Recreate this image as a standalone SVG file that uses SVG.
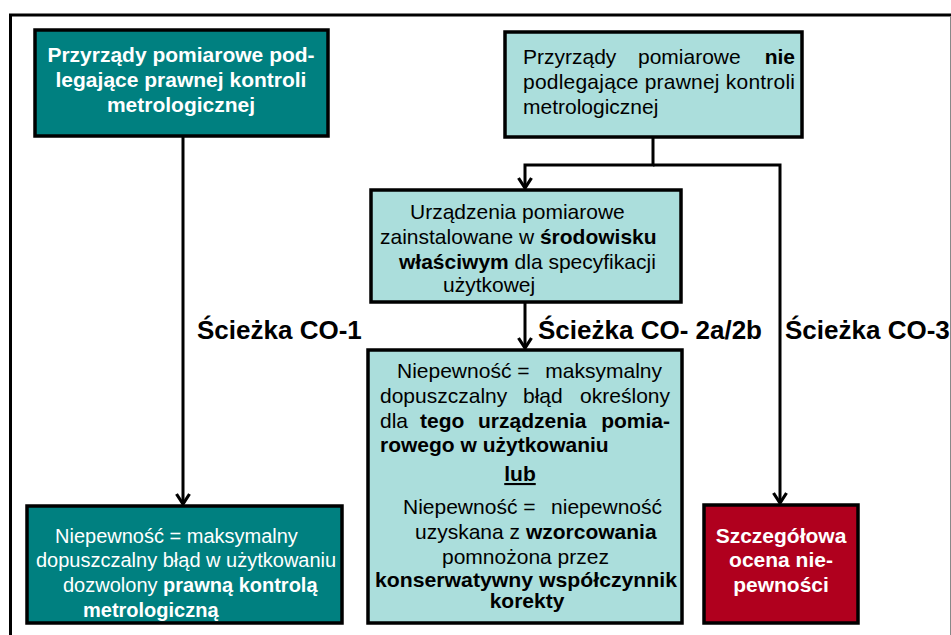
<svg xmlns="http://www.w3.org/2000/svg" width="951" height="635" viewBox="0 0 951 635">
<style>
text{font-family:"Liberation Sans",Arial,sans-serif;font-size:21px;}
.w{fill:#ffffff;}
.k{fill:#000000;}
.b{font-weight:bold;}
.box{stroke:#000;stroke-width:3.5;}
.dark{fill:#008080;}
.light{fill:#abdedc;}
.red{fill:#b0001e;}
.lbl{font-size:26px;font-weight:bold;fill:#000;}
.con{fill:none;stroke:#000;stroke-width:3;}
</style>
<defs>
<marker id="arr" markerUnits="userSpaceOnUse" markerWidth="14" markerHeight="16" refX="12" refY="8" orient="auto" viewBox="0 0 14 16">
<path d="M2,1.5 L12,8 L2,14.5" fill="none" stroke="#000" stroke-width="3.2"/>
</marker>
</defs>
<rect width="951" height="635" fill="#fff"/>
<g id="frame">
<path d="M10.5,635 V15 H951" fill="none" stroke="#000" stroke-width="3"/>
<line x1="950.5" y1="17" x2="950.5" y2="635" stroke="#888" stroke-width="1"/>
</g>
<g id="connectors">
<path class="con" d="M183,137 V504" marker-end="url(#arr)"/>
<path class="con" d="M653,137 V165 H525 V188" marker-end="url(#arr)"/>
<path class="con" d="M653,165 H780 V503" marker-end="url(#arr)"/>
<path class="con" d="M525,302 V348" marker-end="url(#arr)"/>
</g>
<g id="n1">
<rect class="box dark" x="35" y="30" width="293" height="106"/>
<text class="w b" x="181" y="62" text-anchor="middle">Przyrządy pomiarowe pod-</text>
<text class="w b" x="181" y="87" text-anchor="middle">legające prawnej kontroli</text>
<text class="w b" x="181" y="112" text-anchor="middle">metrologicznej</text>
</g>
<g id="n2">
<rect class="box light" x="505" y="32" width="297" height="105"/>
<text class="k" x="523" y="64">Przyrządy</text>
<text class="k" x="638" y="64">pomiarowe</text>
<text class="k b" x="795" y="64" text-anchor="end">nie</text>
<text class="k" x="523" y="89" textLength="272" lengthAdjust="spacing">podlegające prawnej kontroli</text>
<text class="k" x="523" y="114">metrologicznej</text>
</g>
<g id="n3">
<rect class="box light" x="371" y="190" width="310" height="112"/>
<text class="k" x="410" y="219">Urządzenia pomiarowe</text>
<text class="k" x="380" y="244">zainstalowane w <tspan class="b">środowisku</tspan></text>
<text class="k" x="399" y="269"><tspan class="b">właściwym</tspan> dla specyfikacji</text>
<text class="k" x="443" y="292">użytkowej</text>
</g>
<g id="n4">
<rect class="box light" x="368" y="350" width="314" height="273"/>
<text class="k" x="397" y="378">Niepewność =</text>
<text class="k" x="662" y="378" text-anchor="end">maksymalny</text>
<text class="k" x="380" y="403">dopuszczalny</text>
<text class="k" x="523" y="403">błąd</text>
<text class="k" x="670" y="403" text-anchor="end">określony</text>
<text class="k" x="380" y="428">dla</text>
<text class="k b" x="420" y="428">tego</text>
<text class="k b" x="478" y="428">urządzenia</text>
<text class="k b" x="670" y="428" text-anchor="end">pomia-</text>
<text class="k b" x="380" y="452">rowego w użytkowaniu</text>
<text class="k b" x="520" y="481" text-anchor="middle" text-decoration="underline">lub</text>
<text class="k" x="403" y="514">Niepewność =</text>
<text class="k" x="662" y="514" text-anchor="end">niepewność</text>
<text class="k" x="415" y="539">uzyskana z <tspan class="b">wzorcowania</tspan></text>
<text class="k" x="442" y="564">pomnożona przez</text>
<text class="k b" x="375" y="587" textLength="302" lengthAdjust="spacingAndGlyphs">konserwatywny współczynnik</text>
<text class="k b" x="527" y="608" text-anchor="middle">korekty</text>
</g>
<g id="n5">
<rect class="box dark" x="27" y="506" width="315" height="117"/>
<text class="w" x="55" y="543" style="font-size:20px">Niepewność = maksymalny</text>
<text class="w" x="36" y="567" style="font-size:20px">dopuszczalny błąd w użytkowaniu</text>
<text class="w" x="63" y="592" style="font-size:20px">dozwolony <tspan class="b">prawną kontrolą</tspan></text>
<text class="w b" x="83" y="617" style="font-size:20px">metrologiczną</text>
</g>
<g id="n6">
<rect class="box red" x="704" y="505" width="154" height="118"/>
<text class="w b" x="781" y="543" text-anchor="middle">Szczegółowa</text>
<text class="w b" x="781" y="567" text-anchor="middle">ocena nie-</text>
<text class="w b" x="781" y="592" text-anchor="middle">pewności</text>
</g>
<g id="labels">
<text class="lbl" x="197" y="339">Ścieżka CO-1</text>
<text class="lbl" x="538" y="339">Ścieżka CO- 2a/2b</text>
<text class="lbl" x="785" y="339">Ścieżka CO-3</text>
</g>
</svg>
